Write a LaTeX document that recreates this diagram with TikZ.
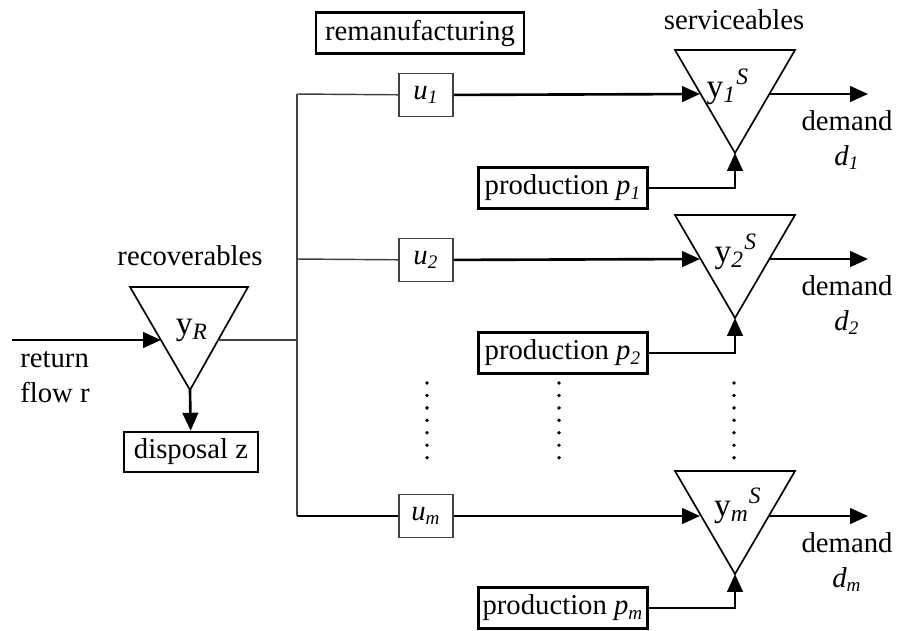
\documentclass[tikz,border=0pt]{standalone}
\usepackage{fontspec}
\setmainfont{Liberation Serif}
\usepackage{tikz}
\usetikzlibrary{arrows.meta,positioning}

\newcommand{\sub}[1]{\textsubscript{\textit{#1}}}
\newcommand{\sur}[1]{\textsuperscript{\textit{#1}}}

\begin{document}
\begin{tikzpicture}[x=0.418pt,y=-0.418pt,font=\fontsize{12}{14.5}\selectfont,
 ubox/.style={draw=black!75,line width=0.6pt,minimum width=22.6pt,minimum height=18pt,inner sep=1pt},
 pbox/.style={draw,line width=1.1pt,minimum width=70.6pt,minimum height=17pt,inner sep=1pt},
 tri/.style={draw,line width=0.7pt,line join=miter},
 store/.style={font=\fontsize{14}{16}\selectfont},
 flow/.style={line width=1.1pt,-{Triangle[length=7.5pt,width=6.5pt]}},
 link/.style={draw=black!75,line width=0.6pt},
 vdots/.style={line width=1.6pt,line cap=round,dash pattern=on 0pt off 5.2pt}]
\useasboundingbox (0,0) rectangle (897,630);

% recoverables
\coordinate (rin) at (12,340);
\coordinate (inR) at (161,340);
\coordinate (outR) at (217,340);
\coordinate (aR) at (190,390);
\draw[tri] (130,287) -- (248,287) -- (aR) -- cycle;
\node[store] (yR) at (192,330) {y\sub{R}};
\node (recov) at (190,256) {recoverables};
\node[align=left] (ret) at (55,377) {return\\flow r};
\node[draw,line width=0.8pt,minimum width=56pt,minimum height=17pt,inner sep=1pt] (disp) at (191,452) {disposal z};
\draw[flow] (rin) -- (inR);
\draw[flow] (aR) -- (disp);

% remanufacturing
\node[pbox,minimum width=87pt] (reman) at (420,33) {remanufacturing};
\coordinate (bR) at (297,340);
\coordinate (b1) at (297,94);
\coordinate (b2) at (297,259);
\coordinate (bm) at (297,516);
\node[ubox] (u1) at (426,95) {\textit{u}\sub{1}};
\node[ubox] (u2) at (426,260) {\textit{u}\sub{2}};
\node[ubox] (um) at (426,516) {\textit{u}\sub{m}};
\draw[link] (outR) -- (bR);
\draw[link] (b1) -- (bm);
\draw[link] (b1) -- (u1);
\draw[link] (b2) -- (u2);
\draw[line width=1.1pt] (bm) -- (um);

% serviceables
\node (serv) at (734,20) {serviceables};
\coordinate (in1) at (700,94);
\coordinate (out1) at (769,94);
\coordinate (d1end) at (868,94);
\coordinate (a1) at (735,153);
\draw[tri] (675,50) -- (795,50) -- (a1) -- cycle;
\node[store] (y1) at (728,87) {y\sub{1}\sur{S}};
\node[align=center] (dem1) at (847,140) {demand\\\textit{d}\sub{1}};
\node[pbox] (p1) at (563,188) {production \textit{p}\sub{1}};

\coordinate (in2) at (700,259);
\coordinate (out2) at (769,259);
\coordinate (d2end) at (868,259);
\coordinate (a2) at (735,318);
\draw[tri] (675,215) -- (795,215) -- (a2) -- cycle;
\node[store] (y2) at (736,252) {y\sub{2}\sur{S}};
\node[align=center] (dem2) at (847,305) {demand\\\textit{d}\sub{2}};
\node[pbox] (p2) at (563,353) {production \textit{p}\sub{2}};

\coordinate (inm) at (700,516);
\coordinate (outm) at (769,516);
\coordinate (dmend) at (868,516);
\coordinate (am) at (735,574);
\draw[tri] (675,471) -- (795,471) -- (am) -- cycle;
\node[store] (ym) at (738,506) {y\sub{m}\sur{S}};
\node[align=center] (demm) at (847,562) {demand\\\textit{d}\sub{m}};
\node[pbox] (pm) at (563,608) {production \textit{p}\sub{m}};

\draw[flow] (u1) -- (in1);
\draw[flow] (out1) -- (d1end);
\draw[flow] (p1) -| (a1);
\draw[flow] (u2) -- (in2);
\draw[flow] (out2) -- (d2end);
\draw[flow] (p2) -| (a2);
\draw[flow] (um) -- (inm);
\draw[flow] (outm) -- (dmend);
\draw[flow] (pm) -| (am);

% dots
\draw[vdots] (427,383) -- (427,459);
\draw[vdots] (559,383) -- (559,459);
\draw[vdots] (734,383) -- (734,459);
\end{tikzpicture}
\end{document}
